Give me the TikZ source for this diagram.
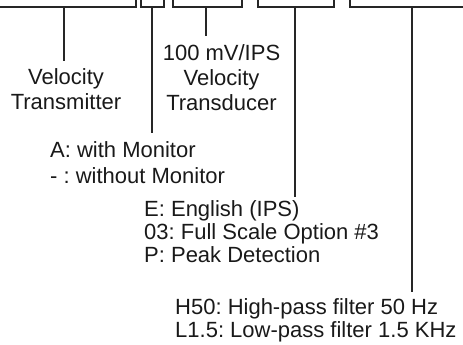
\documentclass[tikz,border=0pt]{standalone}
\usepackage{fontspec}
\setmainfont{Liberation Sans}
\begin{document}
\begin{tikzpicture}[x=1pt,y=-1pt,
  bracket/.style={line width=1.8pt,color=black!85},
  stem/.style={line width=1.8pt,color=black!85},
  lbl/.style={inner sep=0pt,text=black!90}]
\frenchspacing
\useasboundingbox (0,0) rectangle (463,345);
% brackets
\draw[bracket] (-3,7) -- (136,7) -- (136,-1);
\draw[bracket] (141,-1) -- (141,7) -- (164,7) -- (164,-1);
\draw[bracket] (173,-1) -- (173,7) -- (242,7) -- (242,-1);
\draw[bracket] (258,-1) -- (258,7) -- (334,7) -- (334,-1);
\draw[bracket] (350,-1) -- (350,7) -- (470,7);
% stem roots
\coordinate (r1) at (64,7);
\coordinate (r2) at (152,7);
\coordinate (r3) at (206,7);
\coordinate (r4) at (295,7);
\coordinate (r5) at (412,7);
% labels (anchor base = baseline of last line)
\node[lbl,align=center,anchor=base,font=\fontsize{22}{24.5}\selectfont] (vt) at (66,109) {Velocity\\Transmitter};
\node[lbl,align=center,anchor=base,font=\fontsize{22}{24.5}\selectfont] (tr) at (221.5,110) {100 mV/IPS\\Velocity\\Transducer};
\node[lbl,align=left,anchor=base west,font=\fontsize{22}{25.5}\selectfont] (mon) at (50,183) {A: with Monitor\\- : without Monitor};
\node[lbl,align=left,anchor=base west,font=\fontsize{22}{23}\selectfont] (opt) at (144,262) {E: English (IPS)\\03: Full Scale Option \#3\\P: Peak Detection};
\node[lbl,align=left,anchor=base west,font=\fontsize{22}{23}\selectfont] (flt) at (175,337) {H50: High-pass filter 50 Hz\\L1.5: Low-pass filter 1.5 KHz};
% stem ends
\coordinate (e1) at (64,61);
\coordinate (e2) at (152,133);
\coordinate (e3) at (206,36);
\coordinate (e4) at (295,197);
\coordinate (e5) at (412,292);
\draw[stem] (r1) -- (e1);
\draw[stem] (r2) -- (e2);
\draw[stem] (r3) -- (e3);
\draw[stem] (r4) -- (e4);
\draw[stem] (r5) -- (e5);
\end{tikzpicture}
\end{document}
